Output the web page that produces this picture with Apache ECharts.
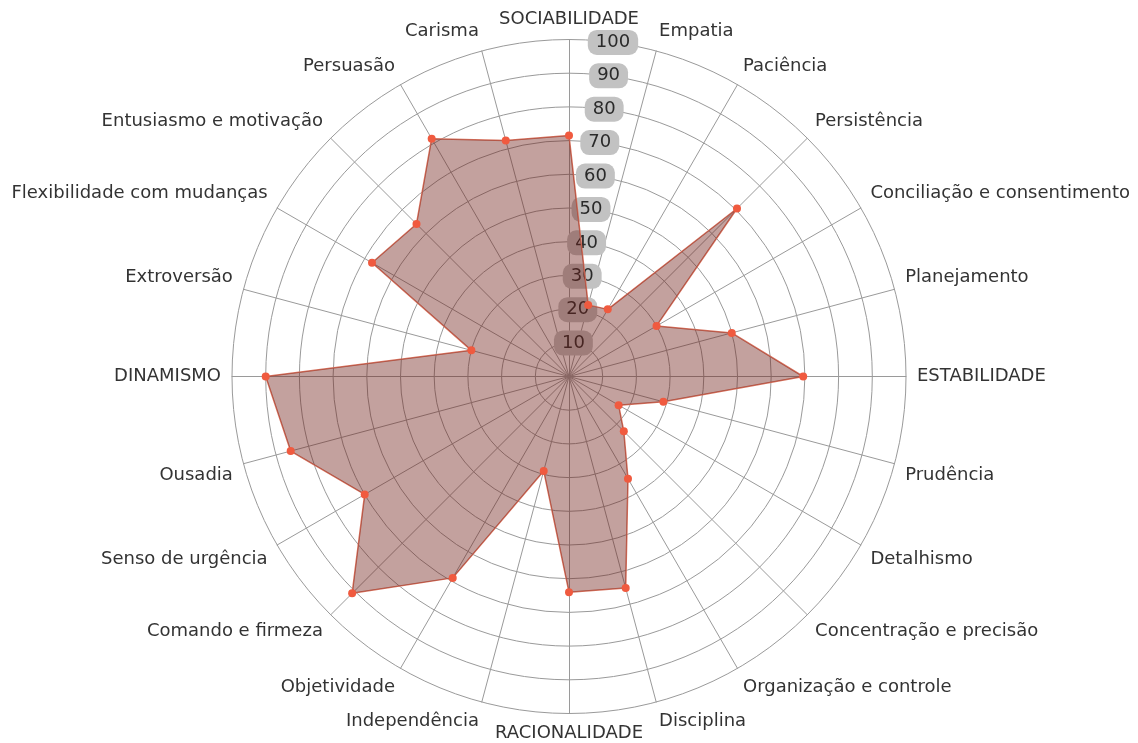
<!DOCTYPE html>
<html>
<head>
<meta charset="utf-8">
<script src="https://cdn.jsdelivr.net/npm/echarts@6/dist/echarts.min.js"></script>
<style>html,body{margin:0;padding:0;background:#fff}#c{width:1138px;height:743px}</style>
</head>
<body>
<div id="c"></div>
<script>
// Axes in clockwise order starting from the top
const categories = [
  'SOCIABILIDADE','Empatia','Paciência','Persistência','Conciliação e consentimento','Planejamento',
  'ESTABILIDADE','Prudência','Detalhismo','Concentração e precisão','Organização e controle','Disciplina',
  'RACIONALIDADE','Independência','Objetividade','Comando e firmeza','Senso de urgência','Ousadia',
  'DINAMISMO','Extroversão','Flexibilidade com mudanças','Entusiasmo e motivação','Persuasão','Carisma'
];
const values = [
  71.5, 22, 23, 70.5, 30, 50,
  69.5, 29, 17, 23, 35, 65,
  64, 29, 69, 91, 70, 85.5,
  90, 30, 67.5, 64, 81.5, 72.5
];
const axisMax = 100;
const tickLabels = ['10','20','30','40','50','60','70','80','90','100'];

const n = categories.length;
// ECharts places radar indicators counter-clockwise; reorder so they read clockwise.
const order = [0];
for (let i = n - 1; i >= 1; i--) order.push(i);

function nameAlign(i) {
  const a = i * 360 / n;
  const align = (a === 0 || a === 180) ? 'center' : (a < 180 ? 'left' : 'right');
  const vAlign = (a === 90 || a === 270) ? 'middle' : ((a < 90 || a > 270) ? 'bottom' : 'top');
  return { align: align, verticalAlign: vAlign };
}

const indicators = order.map(i => ({ name: categories[i], max: axisMax, nameTextStyle: nameAlign(i) }));
const seriesValues = order.map(i => values[i]);

const center = ['50%', 376.5];
const radius = 337;

const chart = echarts.init(document.getElementById('c'));
chart.setOption({
  backgroundColor: '#fff',
  animation: false,
  radar: [{
    shape: 'circle',
    center: center,
    radius: radius,
    startAngle: 90,
    splitNumber: 10,
    indicator: indicators,
    axisName: { color: '#333', fontFamily: 'DejaVu Sans', fontSize: 18 },
    nameGap: 11,
    axisLine: { lineStyle: { color: '#9a9a9a', width: 1 } },
    splitLine: { lineStyle: { color: '#9a9a9a', width: 1 } },
    splitArea: { show: false },
    axisTick: { show: false },
    axisLabel: { show: false }
  }, {
    shape: 'circle',
    center: center,
    radius: radius,
    startAngle: 82.5,
    splitNumber: 10,
    z: 1,
    indicator: categories.map((c, i) => i === 0 ? {
      name: '', max: axisMax,
      axisLabel: {
        show: true, showMinLabel: false, margin: 0,
        align: 'center', verticalAlign: 'middle',
        formatter: (v) => tickLabels[Math.round(v / 10) - 1] || '',
        color: '#2a2a2a', fontFamily: 'DejaVu Sans', fontSize: 18,
        backgroundColor: '#c2c2c2', borderRadius: 9, padding: [4, 8, 3, 8]
      }
    } : { name: '', max: axisMax }),
    axisName: { show: false },
    axisLine: { show: false },
    splitLine: { show: false },
    splitArea: { show: false },
    axisTick: { show: false },
    axisLabel: { show: false }
  }],
  series: [{
    type: 'radar',
    radarIndex: 0,
    z: 2,
    symbol: 'circle',
    symbolSize: 8,
    itemStyle: { color: '#f05a3f' },
    lineStyle: { color: '#d6705c', width: 1.5 },
    areaStyle: { color: 'rgb(112,32,25)', opacity: 0.42 },
    data: [{ value: seriesValues }]
  }]
});
</script>
</body>
</html>
